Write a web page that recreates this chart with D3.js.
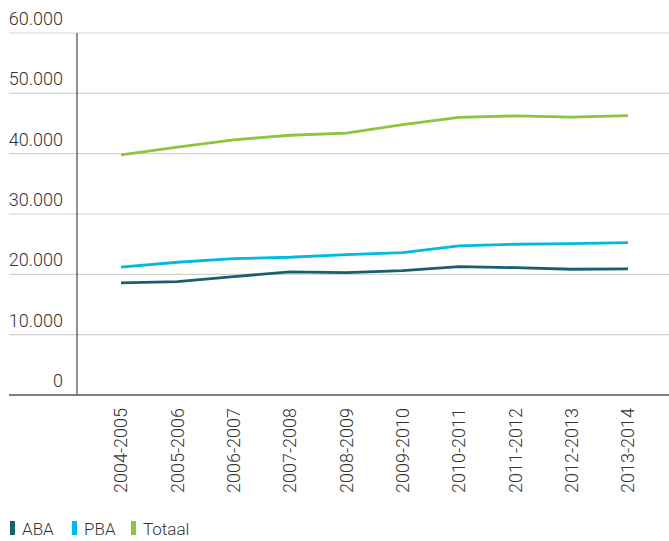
<!DOCTYPE html>
<html><head><meta charset="utf-8">
<script src="https://cdn.jsdelivr.net/npm/d3@7"></script>
<style>
html,body{margin:0;padding:0;background:#fff;}
svg text{font-family:Roboto,"Open Sans",sans-serif;font-weight:300;fill:#333;}
</style></head>
<body>
<svg id="c" width="669" height="541"></svg>
<script>
const categories = ["2004-2005","2005-2006","2006-2007","2007-2008","2008-2009","2009-2010","2010-2011","2011-2012","2012-2013","2013-2014"];
const aba    = [18570,18790,19620,20400,20280,20620,21280,21110,20840,20900];
const pba    = [21180,22000,22600,22830,23270,23600,24710,24990,25100,25260];
const totaal = [39800,41100,42300,43050,43400,44800,46000,46270,46050,46320];
const yTicks = [0,10000,20000,30000,40000,50000,60000];
const seriesNames = ["ABA","PBA","Totaal"];
const seriesColors = ["#1b5e6f","#00bbdd","#8cc63f"];

const svg = d3.select("#c");
const x = d3.scalePoint().domain(categories).range([121,628]);
const y = d3.scaleLinear().domain([0,60000]).range([395,33]);
const fmt = v => v===0 ? "0" : d3.format(",")(v).replace(/,/g,".");

// gridlines
svg.append("g").selectAll("line").data(yTicks.filter(d=>d>0)).join("line")
  .attr("x1",9).attr("x2",669).attr("y1",d=>y(d)).attr("y2",d=>y(d))
  .attr("stroke","#d2d2d2").attr("stroke-width",1.2);
// y labels
svg.append("g").selectAll("text").data(yTicks).join("text")
  .attr("x",63).attr("y",d=>y(d)-8).attr("text-anchor","end")
  .attr("font-size",18).text(fmt);
// axes
svg.append("line").attr("x1",77).attr("x2",77).attr("y1",33).attr("y2",395)
  .attr("stroke","#555").attr("stroke-width",1.3);
svg.append("line").attr("x1",9).attr("x2",669).attr("y1",y(0)).attr("y2",y(0))
  .attr("stroke","#555").attr("stroke-width",1.5);
// x labels
svg.append("g").selectAll("text").data(categories).join("text")
  .attr("transform",d=>`translate(${x(d)},408) rotate(-90)`)
  .attr("text-anchor","end").attr("dy","0.36em")
  .attr("font-size",18).text(d=>d);

const line = d3.line().x((d,i)=>x(categories[i])).y(d=>y(d));
[aba,pba,totaal].forEach((s,i)=>{
  svg.append("path").datum(s).attr("d",line).attr("fill","none")
    .attr("stroke",seriesColors[i]).attr("stroke-width",2.8);
});

// legend
const legX = [10,72,131];
seriesNames.forEach((n,i)=>{
  svg.append("rect").attr("x",legX[i]).attr("y",521).attr("width",5).attr("height",14).attr("fill",seriesColors[i]);
  svg.append("text").attr("x",legX[i]+12).attr("y",535).attr("font-size",17).text(n);
});
</script>
</body></html>
